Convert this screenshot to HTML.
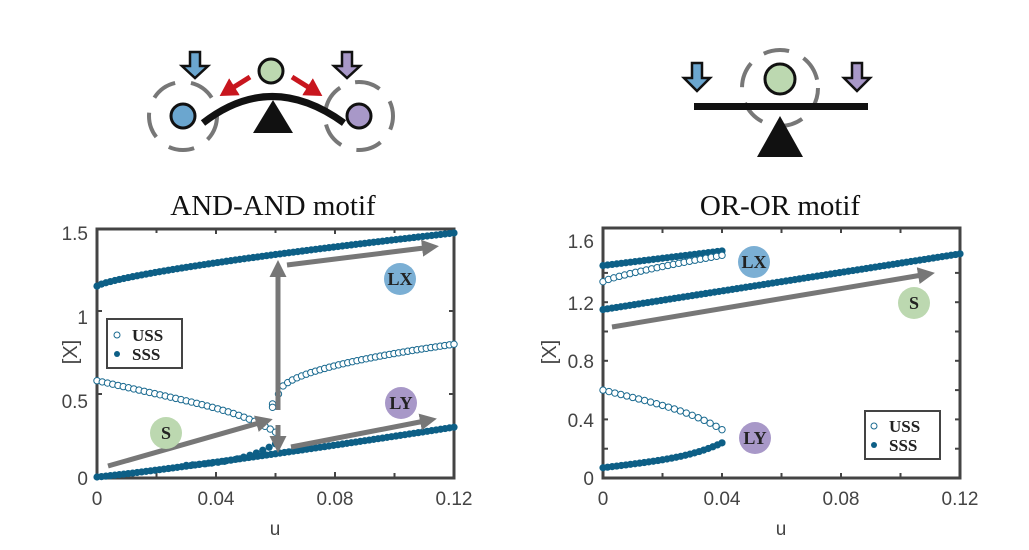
<!DOCTYPE html>
<html><head><meta charset="utf-8"><style>
body{margin:0;background:#fff;}
svg{display:block;}
.t{font-family:"Liberation Sans",sans-serif;font-size:19px;fill:#444;}
.s{font-family:"Liberation Serif",serif;}
</style></head><body>
<svg id="sv" width="1029" height="550" viewBox="0 0 1029 550" xmlns="http://www.w3.org/2000/svg">
<defs>
<marker id="ah" markerWidth="4" markerHeight="4" refX="2" refY="2" orient="auto" markerUnits="strokeWidth"><path d="M0,0.3 L3.4,2 L0,3.7 Z" fill="#777"/></marker>
<marker id="rh" markerWidth="4" markerHeight="4" refX="2" refY="2" orient="auto" markerUnits="strokeWidth"><path d="M0,0 L3.5,2 L0,4 Z" fill="#c8161e"/></marker>
</defs>
<!-- left icon -->
<g stroke="#777" stroke-width="4" fill="none" stroke-dasharray="26 16">
<circle cx="183" cy="116" r="34"/>
<circle cx="359" cy="116" r="34" stroke-dashoffset="12"/>
</g>
<path d="M203,123 Q271,70 344,123" stroke="#111" stroke-width="7" fill="none"/>
<polygon points="253,133 293,133 273,100" fill="#111"/>
<line x1="250" y1="77" x2="226" y2="92" stroke="#c8161e" stroke-width="5" marker-end="url(#rh)"/>
<line x1="292" y1="77" x2="316" y2="92" stroke="#c8161e" stroke-width="5" marker-end="url(#rh)"/>
<circle cx="271" cy="71" r="12" fill="#bcd8b0" stroke="#111" stroke-width="3"/>
<circle cx="183" cy="116" r="12" fill="#6ba6cf" stroke="#111" stroke-width="3"/>
<circle cx="359" cy="116" r="12" fill="#a898c8" stroke="#111" stroke-width="3"/>
<path d="M190,52 h10 v14 h8 l-13,12 l-13,-12 h8 z" fill="#6ba6cf" stroke="#111" stroke-width="2.5"/>
<path d="M342,52 h10 v14 h8 l-13,12 l-13,-12 h8 z" fill="#a898c8" stroke="#111" stroke-width="2.5"/>
<!-- right icon -->
<circle cx="780" cy="88" r="38" stroke="#777" stroke-width="4" fill="none" stroke-dasharray="26 16" stroke-dashoffset="6"/>
<rect x="694" y="103" width="174" height="7" fill="#111"/>
<polygon points="757,157 803,157 780,116" fill="#111"/>
<circle cx="780" cy="79" r="15" fill="#bcd8b0" stroke="#111" stroke-width="3"/>
<path d="M692,63 h10 v15 h8 l-13,13 l-13,-13 h8 z" fill="#6ba6cf" stroke="#111" stroke-width="2.5"/>
<path d="M852,63 h10 v15 h8 l-13,13 l-13,-13 h8 z" fill="#a898c8" stroke="#111" stroke-width="2.5"/>
<!-- titles -->
<text x="273" y="215" text-anchor="middle" class="s" font-size="29" fill="#111">AND-AND motif</text>
<text x="780" y="215" text-anchor="middle" class="s" font-size="29" fill="#111">OR-OR motif</text>
<!-- axes -->
<rect x="97" y="229" width="357" height="249" fill="none" stroke="#444" stroke-width="3"/>
<rect x="603" y="228" width="357" height="250" fill="none" stroke="#444" stroke-width="3"/>
<g id="ticks" stroke="#444" stroke-width="2"></g>
<g class="t">
<text x="88" y="240" text-anchor="end">1.5</text>
<text x="88" y="324" text-anchor="end">1</text>
<text x="88" y="408" text-anchor="end">0.5</text>
<text x="88" y="485" text-anchor="end">0</text>
<text x="97" y="505" text-anchor="middle">0</text>
<text x="216" y="505" text-anchor="middle">0.04</text>
<text x="335" y="505" text-anchor="middle">0.08</text>
<text x="454" y="505" text-anchor="middle">0.12</text>
<text x="275" y="535" text-anchor="middle">u</text>
<text transform="translate(77,352) rotate(-90)" text-anchor="middle" font-size="20">[X]</text>
<text x="594" y="248" text-anchor="end">1.6</text>
<text x="594" y="310" text-anchor="end">1.2</text>
<text x="594" y="368" text-anchor="end">0.8</text>
<text x="594" y="427" text-anchor="end">0.4</text>
<text x="594" y="485" text-anchor="end">0</text>
<text x="603" y="505" text-anchor="middle">0</text>
<text x="722" y="505" text-anchor="middle">0.04</text>
<text x="841" y="505" text-anchor="middle">0.08</text>
<text x="960" y="505" text-anchor="middle">0.12</text>
<text x="781" y="535" text-anchor="middle">u</text>
<text transform="translate(556,352) rotate(-90)" text-anchor="middle" font-size="20">[X]</text>
</g>
<g id="pts"></g>
<!-- arrows -->
<g stroke="#777" stroke-width="5" fill="none">
<line x1="108" y1="466" x2="266" y2="421" marker-end="url(#ah)"/>
<line x1="278" y1="410" x2="278" y2="267" marker-end="url(#ah)"/>
<line x1="278" y1="425" x2="278" y2="446" marker-end="url(#ah)"/>
<line x1="287" y1="265" x2="432" y2="247" marker-end="url(#ah)"/>
<line x1="291" y1="447" x2="430" y2="420" marker-end="url(#ah)"/>
<line x1="612" y1="327" x2="928" y2="274" marker-end="url(#ah)"/>
</g>
<!-- labels -->
<g class="s" font-weight="bold" font-size="18" fill="#222" text-anchor="middle">
<circle cx="400" cy="279" r="16" fill="#7bafd4"/><text x="400" y="285">LX</text>
<circle cx="401" cy="403" r="16" fill="#a898c8"/><text x="401" y="409">LY</text>
<circle cx="166" cy="433" r="16" fill="#bcd8b0"/><text x="166" y="439">S</text>
<circle cx="754" cy="262" r="16" fill="#7bafd4"/><text x="754" y="268">LX</text>
<circle cx="914" cy="303" r="16" fill="#bcd8b0"/><text x="914" y="309">S</text>
<circle cx="755" cy="438" r="16" fill="#a898c8"/><text x="755" y="444">LY</text>
</g>
<!-- legends -->
<rect x="107" y="319" width="75" height="49" fill="#fff" stroke="#444" stroke-width="2"/>
<circle cx="117" cy="335" r="3" fill="#fff" stroke="#1a6a90" stroke-width="1"/>
<circle cx="117" cy="354" r="3" fill="#0d5f86"/>
<text x="132" y="341" class="s" font-weight="bold" font-size="17" fill="#222">USS</text>
<text x="132" y="360" class="s" font-weight="bold" font-size="17" fill="#222">SSS</text>
<rect x="865" y="411" width="75" height="48" fill="#fff" stroke="#444" stroke-width="2"/>
<circle cx="874" cy="426" r="3" fill="#fff" stroke="#1a6a90" stroke-width="1"/>
<circle cx="874" cy="445" r="3" fill="#0d5f86"/>
<text x="889" y="432" class="s" font-weight="bold" font-size="17" fill="#222">USS</text>
<text x="889" y="451" class="s" font-weight="bold" font-size="17" fill="#222">SSS</text>
</svg>
<script>
(function(){
var NS="http://www.w3.org/2000/svg",g=document.getElementById("pts"),tk=document.getElementById("ticks");
function L(x){return 97+x/0.12*357;} function LY(y){return 477-y*166;}
function R(x){return 603+x/0.12*357;} function RY(y){return 478-y*146.5;}
function dot(x,y,open){var c=document.createElementNS(NS,"circle");c.setAttribute("cx",x);c.setAttribute("cy",y);c.setAttribute("r",open?3.2:3.6);
if(open){c.setAttribute("fill","#fff");c.setAttribute("stroke","#1a6a90");c.setAttribute("stroke-width","1");}else c.setAttribute("fill","#0d5f86");g.appendChild(c);}
function curve(fx,fy,u0,u1,n,f,open){for(var i=0;i<=n;i++){var u=u0+(u1-u0)*i/n;dot(fx(u),fy(f(u)),open);}}
curve(L,LY,0,0.12,80,function(u){return 1.15+0.32*Math.pow(u/0.12,0.75);},false);
curve(L,LY,0,0.12,80,function(u){return 0.30*Math.pow(u/0.12,1.1);},false);
curve(L,LY,0.03,0.06,14,function(u){var t=(u-0.03)/0.03;return 0.07+0.04*t+0.09*t*t*t;},false);
curve(L,LY,0,0.06,34,function(u){var t=u/0.06;return 0.58-0.24*t-0.07*Math.pow(t,6);},true);
curve(L,LY,0.061,0.12,38,function(u){var t=(u-0.061)/0.059;return 0.50+0.30*Math.pow(t,0.5);},true);
dot(L(0.059),LY(0.44),true);dot(L(0.059),LY(0.42),true);
curve(R,RY,0,0.04,26,function(u){return 1.45+0.1*(u/0.04);},false);
curve(R,RY,0,0.04,22,function(u){var t=u/0.04;return 1.34+0.18*Math.pow(t,0.8);},true);
curve(R,RY,0,0.12,80,function(u){return 1.15+0.38*(u/0.12);},false);
curve(R,RY,0,0.04,20,function(u){var t=u/0.04;return 0.60-0.2*t-0.07*Math.pow(t,4);},true);
curve(R,RY,0,0.04,26,function(u){var t=u/0.04;return 0.07+0.1*t+0.07*Math.pow(t,4);},false);
function ln(x1,y1,x2,y2){var l=document.createElementNS(NS,"line");l.setAttribute("x1",x1);l.setAttribute("y1",y1);l.setAttribute("x2",x2);l.setAttribute("y2",y2);tk.appendChild(l);}
[0.04,0.08].forEach(function(u){ln(L(u),229,L(u),234);ln(L(u),477,L(u),472);});
[0.02,0.06,0.10].forEach(function(u){ln(L(u),229,L(u),233);ln(L(u),477,L(u),473);});
[0.5,1].forEach(function(v){ln(97,LY(v),102,LY(v));ln(454,LY(v),449,LY(v));});
[0.02,0.04,0.06,0.08,0.10].forEach(function(u){ln(R(u),228,R(u),233);ln(R(u),478,R(u),473);});
[0.2,0.4,0.6,0.8,1,1.2,1.4].forEach(function(v){ln(603,RY(v),608,RY(v));ln(960,RY(v),955,RY(v));});
})();
</script>
</body></html>
